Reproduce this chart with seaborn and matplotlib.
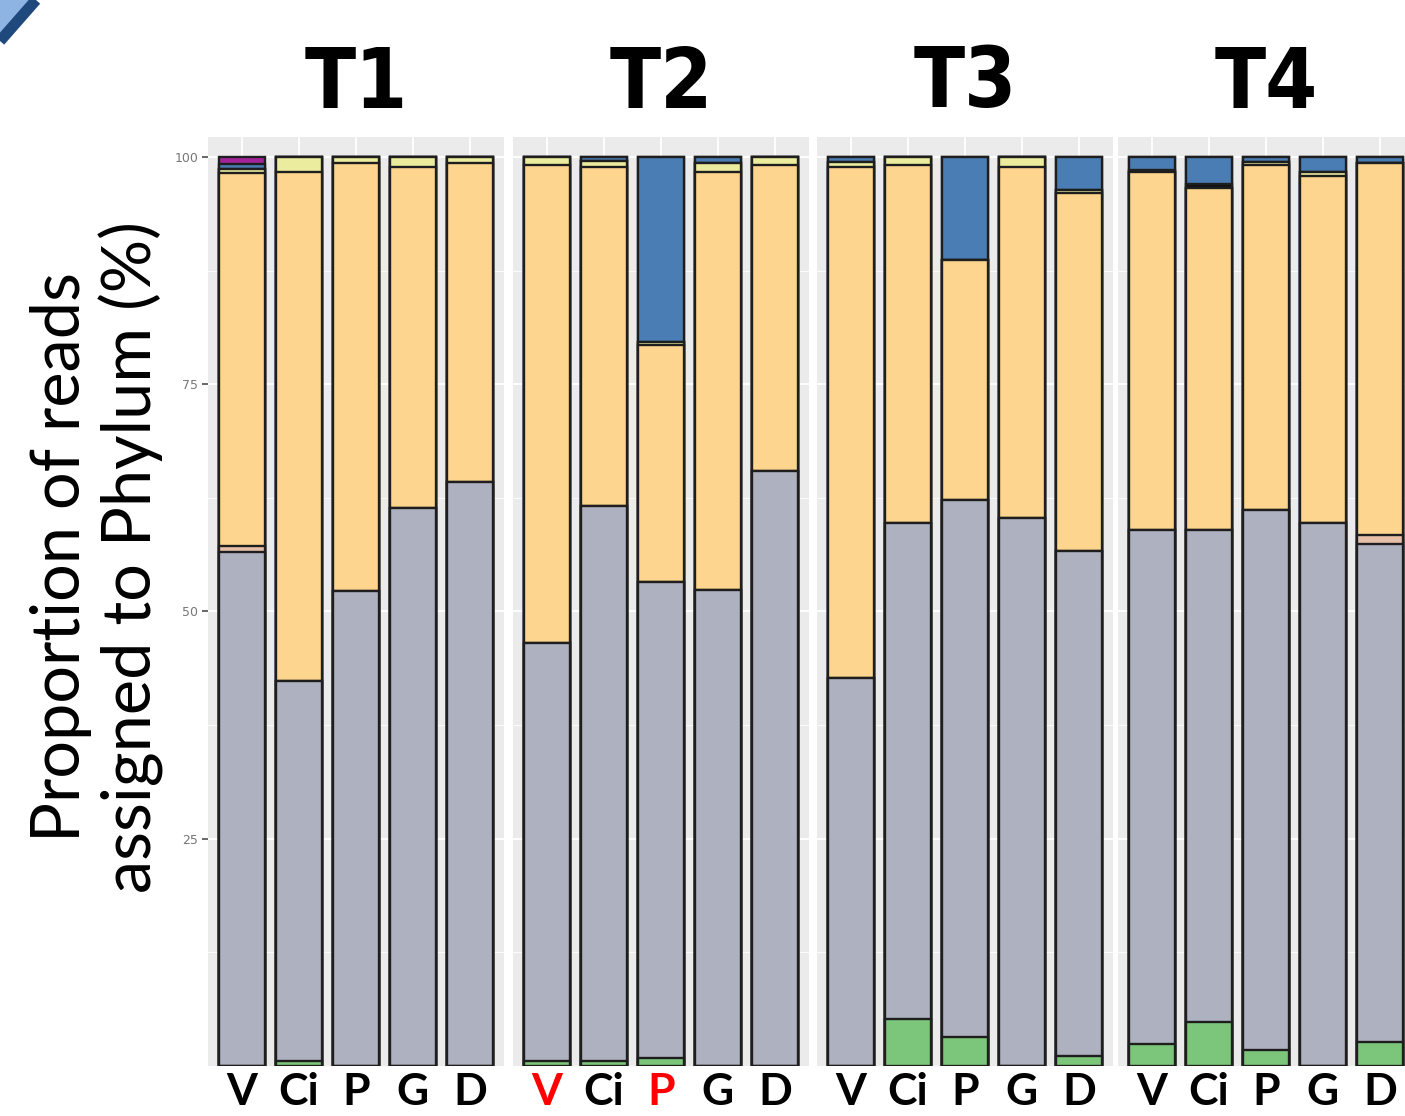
"""
Stacked phylum composition per sample, faceted by time point (T1-T4).
"""

import numpy as np
import pandas as pd
import matplotlib
matplotlib.use("Agg")
import matplotlib.pyplot as plt
import seaborn as sns
from matplotlib.patches import Polygon
from matplotlib.lines import Line2D

# --------------------------
# Data (% of reads per phylum layer, bottom to top)
# --------------------------
times = ["T1", "T2", "T3", "T4"]
samples = ["V", "Ci", "P", "G", "D"]
layers = ["green", "grey", "tan", "orange", "yellow", "dark", "blue", "magenta"]

green = {"T1": [0, 0.5, 0, 0, 0], "T2": [0.6, 0.5, 0.85, 0, 0],
         "T3": [0, 5.2, 3.2, 0, 1.1], "T4": [2.4, 4.8, 1.8, 0, 2.6]}
grey = {"T1": [56.6, 41.8, 52.3, 61.4, 64.2], "T2": [45.9, 61.1, 52.35, 52.4, 65.5],
        "T3": [42.7, 54.5, 59.1, 60.3, 55.6], "T4": [56.6, 54.2, 59.4, 59.7, 54.8]}
tan = {"T1": [0.6, 0, 0, 0, 0], "T2": [0, 0, 0, 0, 0],
       "T3": [0, 0, 0, 0, 0], "T4": [0, 0, 0, 0, 1.0]}
orange = {"T1": [41.0, 56.1, 47.0, 37.5, 35.1], "T2": [52.6, 37.3, 26.1, 46.0, 33.6],
          "T3": [56.2, 39.4, 26.4, 38.6, 39.3], "T4": [39.3, 37.6, 37.9, 38.2, 40.9]}
yellow = {"T1": [0.5, 1.6, 0.7, 1.1, 0.7], "T2": [0.9, 0.65, 0.4, 0.9, 0.9],
          "T3": [0.5, 0.9, 0, 1.1, 0.4], "T4": [0, 0, 0.3, 0.5, 0]}
dark = {"T1": [0, 0, 0, 0, 0], "T2": [0, 0, 0, 0, 0],
        "T3": [0, 0, 0, 0, 0], "T4": [0.3, 0.4, 0, 0, 0]}
blue = {"T1": [0.5, 0, 0, 0, 0], "T2": [0, 0.45, 20.3, 0.7, 0],
        "T3": [0.6, 0, 11.3, 0, 3.6], "T4": [1.4, 3.0, 0.6, 1.6, 0.7]}
magenta = {"T1": [0.8, 0, 0, 0, 0], "T2": [0, 0, 0, 0, 0],
           "T3": [0, 0, 0, 0, 0], "T4": [0, 0, 0, 0, 0]}

layer_values = [green, grey, tan, orange, yellow, dark, blue, magenta]
highlighted = [("T2", "V"), ("T2", "P")]

colors = {"green": "#7BC67A", "grey": "#AEB2C0", "tan": "#E6BFA9",
          "orange": "#FDD58E", "yellow": "#ECEC9E", "dark": "#111111",
          "blue": "#4A7DB3", "magenta": "#A3239A"}

rows = []
for name, vals in zip(layers, layer_values):
    for t in times:
        for s, v in zip(samples, vals[t]):
            rows.append({"time": t, "sample": s, "phylum": name, "value": v})
df = pd.DataFrame(rows)
df["phylum"] = pd.Categorical(df["phylum"], categories=layers, ordered=True)
df = df.sort_values(["time", "sample", "phylum"])
df["top"] = df.groupby(["time", "sample"], observed=True)["value"].cumsum()

# --------------------------
# Figure
# --------------------------
sns.set_theme(style="white")
W, H = 1405, 1116
fig = plt.figure(figsize=(W / 100, H / 100), dpi=100)

panel_left = [208, 513, 817, 1118]
panel_w = 296
y_top, y_bot = 137, 1066

for i, t in enumerate(times):
    ax = fig.add_axes([panel_left[i] / W, (H - y_bot) / H,
                       panel_w / W, (y_bot - y_top) / H])
    ax.set_facecolor("#EBEBEB")
    sub = df[df["time"] == t]
    # draw from the top layer down so lower layers cover the upper bars
    for name in reversed(layers):
        part = sub[sub["phylum"] == name]
        sns.barplot(data=part, x="sample", y="top", order=samples,
                    color=colors[name], saturation=1, width=0.8,
                    edgecolor="#1E1E1E", linewidth=1.7, errorbar=None, ax=ax)
    ax.set_xlim(-0.6, 4.6)
    ax.set_ylim(0, 102.2)
    ax.set_yticks([25, 50, 75, 100])
    ax.set_yticks([12.5, 37.5, 62.5, 87.5], minor=True)
    ax.grid(which="major", color="white", linewidth=1.3)
    ax.grid(which="minor", axis="y", color="white", linewidth=0.6)
    ax.set_axisbelow(True)
    for sp in ax.spines.values():
        sp.set_visible(False)
    ax.set_xlabel("")
    ax.set_ylabel("")
    ax.tick_params(axis="x", length=0, pad=4)
    ax.set_xticks(range(len(samples)))
    ax.set_xticklabels(samples, fontsize=32, fontweight="bold",
                       family=["Lato", "DejaVu Sans"])
    for lab, s in zip(ax.get_xticklabels(), samples):
        lab.set_color("#FF0000" if (t, s) in highlighted else "black")
    if i == 0:
        ax.tick_params(axis="y", which="major", length=4, color="#555555",
                       labelsize=9, labelcolor="#777777", pad=3, left=True)
        ax.tick_params(axis="y", which="minor", length=0)
    else:
        ax.tick_params(axis="y", which="both", left=False, labelleft=False)

    cx = (panel_left[i] + panel_w / 2) / W
    fig.text(cx, 1 - 84 / H, t, ha="center", va="center", fontsize=60,
             fontweight="bold", fontstretch="condensed", color="black",
             family=["DejaVu Sans"])

fig.text(97 / W, 1 - 557 / H, "Proportion of reads\nassigned to Phylum (%)",
         rotation=90, ha="center", va="center", multialignment="center",
         fontsize=48, linespacing=1.14, color="black",
         family=["Lato", "DejaVu Sans"])

# slide decoration in the top-left corner
fig.add_artist(Polygon([(0, 1), (34 / W, 1), (0, 1 - 36 / H)], closed=True,
                       transform=fig.transFigure, facecolor="#8DB4E2",
                       edgecolor="none"))
fig.add_artist(Line2D([0, 36 / W], [1 - 41 / H, 1], transform=fig.transFigure,
                      color="#1F497D", linewidth=8, solid_capstyle="butt"))

fig.savefig("out.png", dpi=100)
